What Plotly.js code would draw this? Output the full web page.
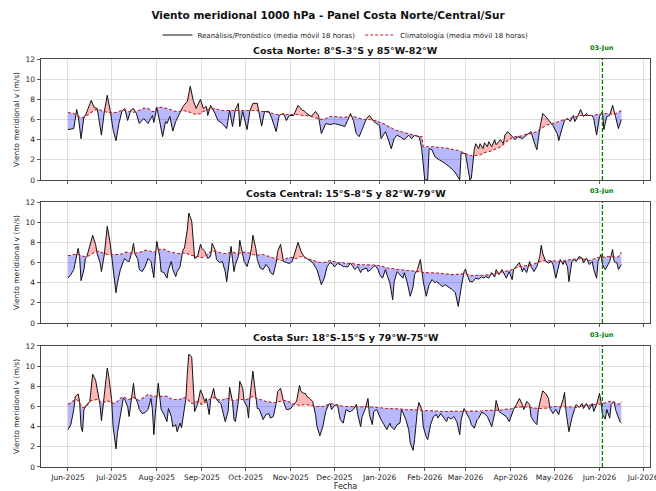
<!DOCTYPE html>
<html>
<head>
<meta charset="utf-8">
<script src="https://cdn.plot.ly/plotly-3.0.1.min.js"></script>
<style>html,body{margin:0;padding:0;background:#fff;}</style>
</head>
<body>
<div id="chart" style="width:656px;height:491px;"></div>
<script>
// ---------------- DATA ----------------
const forecastDate = '2026-06-03';
const forecastLabel = '03-Jun';
const panelTitles = [
  'Costa Norte: 8°S-3°S y 85°W-82°W',
  'Costa Central: 15°S-8°S y 82°W-79°W',
  'Costa Sur: 18°S-15°S y 79°W-75°W'
];

// Costa Norte
const norteDates = ['2025-06-01','2025-06-05','2025-06-07','2025-06-08','2025-06-10','2025-06-12','2025-06-13','2025-06-17','2025-06-19','2025-06-21','2025-06-22','2025-06-24','2025-06-26','2025-06-28','2025-06-30','2025-07-02','2025-07-04','2025-07-06','2025-07-08','2025-07-10','2025-07-12','2025-07-14','2025-07-16','2025-07-18','2025-07-20','2025-07-23','2025-07-26','2025-07-29','2025-07-30','2025-08-01','2025-08-03','2025-08-05','2025-08-07','2025-08-08','2025-08-10','2025-08-12','2025-08-14','2025-08-17','2025-08-19','2025-08-22','2025-08-24','2025-08-26','2025-08-28','2025-08-31','2025-09-02','2025-09-04','2025-09-05','2025-09-07','2025-09-10','2025-09-12','2025-09-15','2025-09-18','2025-09-20','2025-09-22','2025-09-24','2025-09-26','2025-09-27','2025-09-29','2025-10-02','2025-10-04','2025-10-06','2025-10-09','2025-10-10','2025-10-12','2025-10-14','2025-10-17','2025-10-19','2025-10-22','2025-10-24','2025-10-27','2025-10-29','2025-10-31','2025-11-03','2025-11-06','2025-11-09','2025-11-10','2025-11-12','2025-11-15','2025-11-18','2025-11-20','2025-11-22','2025-11-25','2025-11-28','2025-12-01','2025-12-05','2025-12-08','2025-12-10','2025-12-12','2025-12-14','2025-12-16','2025-12-18','2025-12-21','2025-12-23','2025-12-25','2025-12-28','2025-12-30','2026-01-01','2026-01-02','2026-01-05','2026-01-07','2026-01-09','2026-01-11','2026-01-13','2026-01-16','2026-01-18','2026-01-21','2026-01-23','2026-01-25','2026-01-28','2026-01-29','2026-01-30','2026-01-31','2026-02-01','2026-02-03','2026-02-04','2026-02-06','2026-02-08','2026-02-11','2026-02-15','2026-02-18','2026-02-21','2026-02-23','2026-02-25','2026-02-26','2026-03-01','2026-03-04','2026-03-05','2026-03-07','2026-03-08','2026-03-10','2026-03-11','2026-03-13','2026-03-14','2026-03-16','2026-03-17','2026-03-19','2026-03-21','2026-03-22','2026-03-25','2026-03-27','2026-03-28','2026-03-30','2026-04-02','2026-04-04','2026-04-06','2026-04-09','2026-04-11','2026-04-13','2026-04-15','2026-04-17','2026-04-19','2026-04-21','2026-04-23','2026-04-25','2026-04-27','2026-04-28','2026-04-30','2026-05-03','2026-05-04','2026-05-06','2026-05-08','2026-05-10','2026-05-12','2026-05-14','2026-05-15','2026-05-17','2026-05-19','2026-05-21','2026-05-23','2026-05-24','2026-05-27','2026-05-28','2026-05-30','2026-06-01','2026-06-03','2026-06-04','2026-06-06','2026-06-08','2026-06-10','2026-06-12','2026-06-14','2026-06-16'];
const norteV = [5.0,5.1,7.0,6.4,4.1,6.3,6.4,7.9,7.2,7.1,6.3,4.45,6.8,8.4,6.9,5.0,3.9,5.6,6.8,7.1,5.9,6.9,7.1,6.6,5.6,6.1,5.6,6.4,5.7,7.2,5.8,4.3,5.8,5.6,6.3,4.85,5.8,6.8,7.3,7.8,9.3,7.9,7.1,8.0,7.1,7.3,6.4,7.4,6.6,5.9,5.6,5.1,6.9,5.3,7.0,7.6,5.3,6.8,5.0,6.9,7.6,7.6,6.9,5.35,6.8,6.8,6.1,4.8,6.4,6.6,5.9,6.4,6.4,7.4,6.9,6.9,6.6,6.3,6.8,6.4,4.6,5.6,5.5,5.6,5.45,5.3,5.9,6.6,5.9,4.6,4.3,5.45,6.1,6.4,5.8,5.6,5.4,4.1,4.8,4.0,3.1,4.1,4.45,4.2,4.0,4.45,4.1,4.45,4.3,3.8,3.0,1.5,0,0,3.1,3.0,2.3,2.0,1.65,1.3,0.9,0.5,0,2.7,2.6,0,0.2,3.0,3.6,3.1,3.6,3.1,3.7,3.3,3.8,3.3,4.0,3.5,4.0,3.6,4.45,4.8,4.3,4.0,4.3,4.1,4.35,4.6,4.8,3.8,3.0,5.1,6.6,6.3,5.9,5.8,5.4,4.6,3.9,5.0,5.9,6.1,5.8,6.4,5.8,6.3,7.0,6.3,6.6,6.4,6.4,6.1,4.45,6.3,6.8,5.0,6.3,6.4,7.4,6.3,5.1,6.0];
const norteClim = [6.7,6.6,6.4,6.3,6.2,6.2,6.3,6.7,6.9,7.0,7.0,6.9,6.8,6.7,6.7,6.7,6.7,6.8,6.9,6.9,6.8,6.8,6.7,6.8,6.9,7.1,7.1,6.8,6.8,7.2,7.2,7.2,7.1,7.1,7.0,6.9,6.8,6.8,6.9,6.8,6.7,6.6,6.5,6.6,6.8,6.9,7.0,7.0,7.1,7.0,6.9,6.9,6.9,6.9,6.9,6.9,6.9,6.9,6.9,6.9,6.9,6.9,6.8,6.8,6.8,6.7,6.6,6.5,6.5,6.5,6.5,6.5,6.5,6.5,6.4,6.4,6.4,6.3,6.2,6.1,6.0,6.1,6.3,6.3,6.2,6.2,6.3,6.4,6.3,6.2,6.1,6.0,6.0,6.0,5.9,5.9,5.7,5.7,5.5,5.3,5.2,5.0,4.9,4.8,4.7,4.6,4.5,4.4,4.3,4.3,4.3,3.3,3.3,3.3,3.3,3.3,3.3,3.2,3.2,3.1,3.0,3.0,2.9,2.8,2.6,2.4,2.4,2.4,2.4,2.5,2.5,2.6,2.7,2.8,2.8,2.9,3.0,3.1,3.3,3.5,3.7,3.9,4.2,4.3,4.3,4.4,4.5,4.6,4.6,4.7,4.8,5.0,5.2,5.4,5.5,5.5,5.6,5.7,5.8,5.9,6.0,6.0,6.1,6.2,6.3,6.3,6.4,6.4,6.4,6.4,6.4,6.4,6.5,6.5,6.6,6.6,6.6,6.6,6.5,6.6,6.7,6.9];

// Costa Central
const centralDates = ['2025-06-01','2025-06-03','2025-06-05','2025-06-07','2025-06-08','2025-06-09','2025-06-10','2025-06-12','2025-06-13','2025-06-14','2025-06-16','2025-06-18','2025-06-20','2025-06-21','2025-06-23','2025-06-24','2025-06-26','2025-06-27','2025-06-28','2025-06-30','2025-07-01','2025-07-02','2025-07-04','2025-07-05','2025-07-07','2025-07-09','2025-07-10','2025-07-12','2025-07-13','2025-07-15','2025-07-16','2025-07-17','2025-07-19','2025-07-20','2025-07-22','2025-07-24','2025-07-26','2025-07-28','2025-07-30','2025-07-31','2025-08-01','2025-08-03','2025-08-04','2025-08-06','2025-08-08','2025-08-09','2025-08-11','2025-08-12','2025-08-14','2025-08-15','2025-08-17','2025-08-19','2025-08-20','2025-08-22','2025-08-23','2025-08-25','2025-08-26','2025-08-27','2025-08-29','2025-08-31','2025-09-01','2025-09-03','2025-09-05','2025-09-07','2025-09-08','2025-09-10','2025-09-11','2025-09-13','2025-09-15','2025-09-17','2025-09-18','2025-09-20','2025-09-21','2025-09-22','2025-09-23','2025-09-24','2025-09-26','2025-09-27','2025-09-29','2025-09-30','2025-10-02','2025-10-04','2025-10-05','2025-10-06','2025-10-08','2025-10-09','2025-10-11','2025-10-13','2025-10-15','2025-10-17','2025-10-18','2025-10-20','2025-10-22','2025-10-23','2025-10-25','2025-10-27','2025-10-29','2025-10-31','2025-11-02','2025-11-03','2025-11-05','2025-11-06','2025-11-08','2025-11-10','2025-11-12','2025-11-14','2025-11-16','2025-11-19','2025-11-21','2025-11-22','2025-11-24','2025-11-26','2025-11-28','2025-11-30','2025-12-01','2025-12-03','2025-12-05','2025-12-07','2025-12-08','2025-12-10','2025-12-12','2025-12-14','2025-12-15','2025-12-17','2025-12-19','2025-12-20','2025-12-23','2025-12-24','2025-12-26','2025-12-28','2025-12-29','2025-12-31','2026-01-01','2026-01-03','2026-01-05','2026-01-06','2026-01-08','2026-01-10','2026-01-11','2026-01-13','2026-01-15','2026-01-17','2026-01-18','2026-01-20','2026-01-22','2026-01-24','2026-01-25','2026-01-27','2026-01-29','2026-01-30','2026-01-31','2026-02-02','2026-02-04','2026-02-06','2026-02-08','2026-02-09','2026-02-11','2026-02-13','2026-02-15','2026-02-17','2026-02-20','2026-02-22','2026-02-24','2026-02-26','2026-02-28','2026-03-01','2026-03-02','2026-03-04','2026-03-06','2026-03-08','2026-03-10','2026-03-12','2026-03-13','2026-03-15','2026-03-17','2026-03-19','2026-03-21','2026-03-22','2026-03-24','2026-03-26','2026-03-27','2026-03-29','2026-03-31','2026-04-02','2026-04-03','2026-04-05','2026-04-07','2026-04-09','2026-04-10','2026-04-12','2026-04-14','2026-04-15','2026-04-17','2026-04-19','2026-04-21','2026-04-22','2026-04-23','2026-04-25','2026-04-27','2026-04-29','2026-04-30','2026-05-02','2026-05-04','2026-05-05','2026-05-07','2026-05-08','2026-05-10','2026-05-11','2026-05-13','2026-05-15','2026-05-16','2026-05-18','2026-05-20','2026-05-21','2026-05-23','2026-05-25','2026-05-27','2026-05-28','2026-05-30','2026-05-31','2026-06-02','2026-06-03','2026-06-05','2026-06-06','2026-06-08','2026-06-10','2026-06-11','2026-06-13','2026-06-14','2026-06-16'];
const centralV = [4.45,4.8,5.3,6.9,7.4,6.6,4.2,5.3,6.4,6.6,7.6,8.7,7.8,6.9,6.0,5.1,6.8,8.6,9.6,7.9,6.6,5.0,3.0,4.0,5.3,6.1,6.4,6.1,6.1,7.1,7.9,6.9,6.3,5.3,5.1,5.6,6.4,6.1,4.5,6.6,8.1,6.6,5.1,5.0,4.45,5.3,6.1,5.3,4.6,5.1,5.6,7.3,7.4,9.3,10.9,10.1,7.8,6.4,6.6,7.8,7.4,7.1,6.4,6.6,7.9,7.3,6.3,6.0,6.1,5.1,4.1,6.1,7.6,6.3,5.1,5.8,6.6,8.2,6.6,6.1,5.6,6.6,7.4,8.7,7.4,6.3,5.45,5.3,5.8,5.45,5.0,4.8,6.0,7.1,7.8,6.1,6.0,5.9,6.1,6.6,7.4,8.0,7.1,6.6,6.4,6.2,6.0,5.3,4.3,3.8,4.45,5.6,6.0,5.8,5.55,5.9,5.8,5.6,5.6,5.55,5.95,5.55,5.3,5.6,5.0,5.3,5.45,5.1,5.3,5.6,5.7,5.3,4.8,4.45,5.3,4.8,4.0,2.3,4.1,5.1,4.8,4.45,5.0,4.0,2.65,3.6,4.8,5.3,6.3,5.3,4.1,2.65,3.8,4.3,4.0,4.1,3.9,3.6,3.8,3.6,3.3,3.0,1.65,3.5,5.1,5.35,4.8,4.1,4.1,4.45,4.35,4.6,4.45,4.6,4.45,5.0,4.55,5.3,4.8,5.3,5.0,4.45,5.1,4.3,5.3,5.6,6.0,5.1,5.45,5.0,6.1,5.6,5.1,5.6,6.6,7.7,6.9,6.1,5.95,6.1,5.8,4.45,5.6,6.3,5.8,6.2,5.6,4.1,6.1,6.3,6.1,6.6,6.45,5.95,6.45,5.8,6.1,5.3,4.45,6.1,6.8,5.8,5.3,5.6,6.1,7.3,6.1,5.95,5.3,5.8];
const centralClim = [6.7,6.7,6.8,6.8,6.8,6.7,6.7,6.6,6.6,6.6,6.7,6.9,7.1,7.1,7.1,7.0,6.9,6.9,6.8,6.8,6.8,6.8,6.8,6.8,6.8,6.9,7.0,7.0,7.0,6.9,6.9,6.9,7.0,7.0,7.1,7.2,7.2,7.1,7.0,7.1,7.2,7.3,7.3,7.3,7.2,7.1,7.0,7.0,6.9,6.9,6.9,7.0,6.9,6.9,6.8,6.7,6.7,6.6,6.6,6.5,6.5,6.6,6.8,7.1,7.1,7.1,7.1,7.0,6.9,6.9,6.9,7.0,7.0,7.0,7.0,6.9,6.9,6.9,7.0,7.0,7.0,6.9,6.9,6.8,6.7,6.7,6.8,6.8,6.7,6.6,6.6,6.5,6.4,6.3,6.2,6.2,6.4,6.5,6.5,6.4,6.4,6.5,6.6,6.5,6.4,6.3,6.2,6.1,6.0,6.0,6.0,6.1,6.2,6.1,6.1,6.0,6.0,6.0,5.9,5.9,5.9,5.9,5.8,5.8,5.8,5.8,5.8,5.8,5.8,5.8,5.75,5.7,5.7,5.6,5.5,5.5,5.4,5.4,5.35,5.3,5.3,5.25,5.2,5.2,5.2,5.15,5.1,5.1,5.1,5.05,5.0,5.0,5.0,5.0,5.0,5.0,4.95,4.9,4.9,4.85,4.8,4.8,4.8,4.85,4.9,4.9,4.85,4.7,4.7,4.7,4.7,4.7,4.7,4.75,4.8,4.85,4.9,4.95,5.0,5.1,5.1,5.15,5.2,5.3,5.4,5.5,5.6,5.6,5.65,5.7,5.7,5.75,5.8,5.95,6.1,6.1,6.15,6.2,6.2,6.2,6.2,6.15,6.1,6.1,6.15,6.2,6.25,6.3,6.3,6.35,6.35,6.4,6.35,6.3,6.25,6.2,6.3,6.35,6.45,6.5,6.5,6.5,6.55,6.6,6.6,6.6,6.55,6.5,6.6,7.0];

// Costa Sur
const surDates = ['2025-06-01','2025-06-03','2025-06-05','2025-06-06','2025-06-08','2025-06-09','2025-06-10','2025-06-11','2025-06-12','2025-06-14','2025-06-16','2025-06-17','2025-06-18','2025-06-20','2025-06-21','2025-06-23','2025-06-24','2025-06-26','2025-06-27','2025-06-28','2025-06-29','2025-07-01','2025-07-02','2025-07-04','2025-07-05','2025-07-07','2025-07-09','2025-07-10','2025-07-12','2025-07-13','2025-07-15','2025-07-16','2025-07-17','2025-07-19','2025-07-20','2025-07-22','2025-07-24','2025-07-26','2025-07-28','2025-07-29','2025-07-30','2025-07-31','2025-08-02','2025-08-03','2025-08-04','2025-08-06','2025-08-08','2025-08-09','2025-08-11','2025-08-12','2025-08-14','2025-08-15','2025-08-17','2025-08-18','2025-08-20','2025-08-21','2025-08-22','2025-08-23','2025-08-25','2025-08-26','2025-08-27','2025-08-29','2025-08-31','2025-09-01','2025-09-03','2025-09-04','2025-09-06','2025-09-07','2025-09-09','2025-09-10','2025-09-12','2025-09-14','2025-09-16','2025-09-17','2025-09-19','2025-09-20','2025-09-22','2025-09-23','2025-09-24','2025-09-26','2025-09-27','2025-09-29','2025-09-30','2025-10-02','2025-10-03','2025-10-04','2025-10-06','2025-10-07','2025-10-09','2025-10-10','2025-10-11','2025-10-13','2025-10-15','2025-10-17','2025-10-18','2025-10-20','2025-10-22','2025-10-23','2025-10-25','2025-10-27','2025-10-29','2025-10-30','2025-11-01','2025-11-03','2025-11-05','2025-11-07','2025-11-08','2025-11-10','2025-11-11','2025-11-12','2025-11-14','2025-11-16','2025-11-18','2025-11-19','2025-11-21','2025-11-23','2025-11-25','2025-11-27','2025-11-28','2025-11-29','2025-12-01','2025-12-03','2025-12-05','2025-12-07','2025-12-09','2025-12-11','2025-12-12','2025-12-14','2025-12-16','2025-12-17','2025-12-19','2025-12-20','2025-12-22','2025-12-24','2025-12-25','2025-12-27','2025-12-28','2025-12-30','2026-01-01','2026-01-02','2026-01-04','2026-01-06','2026-01-08','2026-01-09','2026-01-11','2026-01-13','2026-01-15','2026-01-16','2026-01-17','2026-01-19','2026-01-21','2026-01-22','2026-01-24','2026-01-25','2026-01-27','2026-01-28','2026-01-30','2026-01-31','2026-02-02','2026-02-03','2026-02-05','2026-02-07','2026-02-09','2026-02-10','2026-02-12','2026-02-14','2026-02-16','2026-02-17','2026-02-19','2026-02-21','2026-02-23','2026-02-25','2026-02-26','2026-02-28','2026-03-02','2026-03-04','2026-03-05','2026-03-07','2026-03-09','2026-03-10','2026-03-12','2026-03-14','2026-03-16','2026-03-17','2026-03-19','2026-03-21','2026-03-22','2026-03-24','2026-03-26','2026-03-27','2026-03-29','2026-03-31','2026-04-02','2026-04-03','2026-04-05','2026-04-07','2026-04-09','2026-04-10','2026-04-12','2026-04-14','2026-04-15','2026-04-17','2026-04-19','2026-04-20','2026-04-22','2026-04-23','2026-04-25','2026-04-27','2026-04-28','2026-04-30','2026-05-02','2026-05-04','2026-05-05','2026-05-07','2026-05-08','2026-05-09','2026-05-11','2026-05-13','2026-05-15','2026-05-16','2026-05-18','2026-05-20','2026-05-21','2026-05-23','2026-05-25','2026-05-27','2026-05-28','2026-05-30','2026-06-01','2026-06-02','2026-06-03','2026-06-05','2026-06-06','2026-06-08','2026-06-09','2026-06-11','2026-06-12','2026-06-14','2026-06-15','2026-06-16'];
const surV = [3.7,4.2,5.7,7.0,7.25,6.5,4.0,3.5,5.7,6.2,6.5,8.3,9.2,8.6,7.8,6.2,4.6,7.0,8.6,9.8,9.0,6.7,4.0,1.8,3.4,5.3,6.8,6.7,6.0,5.0,7.2,8.3,7.0,6.3,5.7,5.3,5.4,5.7,6.8,5.7,3.2,5.3,8.3,7.0,5.7,5.2,4.5,5.8,5.0,4.0,4.2,3.5,4.35,3.9,5.7,6.8,9.3,11.2,10.9,7.8,5.5,6.2,7.65,7.3,6.5,6.8,5.2,6.7,7.8,7.0,6.5,6.3,5.2,4.5,5.5,7.9,6.5,4.7,4.5,6.5,8.5,7.8,6.5,6.0,4.85,7.0,9.5,8.3,5.8,5.8,5.5,4.7,5.2,5.3,4.85,5.0,6.3,7.5,7.8,6.5,5.7,5.7,5.8,6.2,6.5,8.1,7.5,7.3,7.3,7.0,6.8,6.5,5.2,4.0,3.1,4.0,5.5,6.2,6.3,5.7,6.1,6.2,4.7,4.35,5.7,5.5,5.5,5.7,6.2,5.2,4.0,5.0,5.7,6.8,5.2,4.2,5.5,5.7,5.0,4.7,4.2,3.7,4.35,4.0,3.7,4.2,4.35,5.7,5.4,4.7,3.7,2.4,1.65,2.7,5.7,6.4,5.7,4.0,3.0,2.7,4.2,5.0,5.2,4.85,5.3,4.85,4.5,4.95,4.75,5.0,4.5,3.2,4.7,5.8,5.2,4.7,4.2,3.85,4.7,4.85,5.4,5.3,5.0,4.7,4.0,5.3,6.6,5.5,5.3,5.2,5.0,4.5,5.3,5.7,6.2,6.8,6.2,5.7,6.5,6.2,5.0,4.5,4.2,5.7,7.0,7.55,7.3,6.8,5.8,5.3,5.7,5.2,5.8,6.7,7.4,5.5,3.5,4.85,5.8,6.2,5.9,6.3,5.8,6.3,5.7,6.3,5.5,6.2,7.3,6.5,5.2,4.75,5.7,4.85,6.2,6.5,5.7,4.85,4.5,4.4];
const surClim = [6.2,6.4,6.6,6.7,6.6,6.3,6.1,5.9,5.9,6.1,6.4,6.6,6.6,6.7,6.7,6.5,6.4,6.4,6.6,6.6,6.5,6.4,6.3,6.4,6.5,6.8,7.0,6.9,6.7,6.7,6.8,6.9,6.8,6.7,6.6,6.8,7.0,7.2,7.1,7.0,7.0,7.0,7.0,7.0,7.0,7.0,7.0,6.9,6.8,6.7,6.7,6.7,6.7,6.8,6.9,6.8,6.7,6.6,6.3,6.3,6.4,6.5,6.3,6.2,6.4,6.5,6.7,6.8,6.9,6.8,6.7,6.6,6.7,6.8,6.8,6.7,6.6,6.6,6.6,6.7,6.7,6.7,6.7,6.7,6.8,6.9,7.0,6.9,6.8,6.7,6.7,6.6,6.5,6.5,6.4,6.4,6.4,6.5,6.5,6.6,6.6,6.5,6.4,6.2,6.2,6.1,6.1,6.2,6.2,6.2,6.1,6.1,6.0,6.0,6.0,6.0,6.1,6.2,6.3,6.3,6.2,6.1,6.1,6.0,6.0,6.0,6.0,6.0,6.0,6.0,6.0,6.0,6.0,6.0,6.0,5.95,5.95,5.9,5.9,5.85,5.85,5.8,5.8,5.8,5.8,5.8,5.75,5.75,5.7,5.7,5.7,5.7,5.7,5.7,5.7,5.65,5.6,5.6,5.6,5.6,5.6,5.6,5.55,5.55,5.5,5.5,5.5,5.5,5.5,5.5,5.5,5.5,5.5,5.5,5.5,5.5,5.5,5.5,5.5,5.55,5.55,5.6,5.6,5.6,5.6,5.6,5.6,5.65,5.65,5.7,5.7,5.75,5.8,5.9,5.9,5.95,6.0,6.0,5.95,5.9,5.85,5.8,5.8,5.8,5.8,5.8,5.8,5.85,5.9,6.0,6.0,6.0,6.0,6.0,6.0,6.0,6.0,5.95,5.9,5.9,6.0,6.0,6.1,6.1,6.1,6.15,6.2,6.2,6.2,6.25,6.3,6.35,6.4,6.5,6.5,6.4,6.3,6.2,6.3,6.5,6.6,6.7];

// ---------------- STYLE ----------------
const FONT = 'DejaVu Sans, sans-serif';
const RED_FILL = 'rgba(255,0,0,0.28)';
const BLUE_FILL = 'rgba(0,0,255,0.28)';
const CLIM_COLOR = '#b8262b';
const LINE_COLOR = '#111111';

function toStr(ms){ return new Date(ms).toISOString().slice(0,19).replace('T',' '); }

// insert crossing points so fills switch cleanly between red/blue
function splitFill(dates, v, c){
  const t = dates.map(d => Date.parse(d + 'T00:00:00Z'));
  const xs = [], up = [], lo = [], cc = [];
  for (let i = 0; i < t.length; i++){
    xs.push(toStr(t[i])); cc.push(c[i]);
    up.push(Math.max(v[i], c[i])); lo.push(Math.min(v[i], c[i]));
    if (i < t.length - 1){
      const d0 = v[i] - c[i], d1 = v[i+1] - c[i+1];
      if (d0 * d1 < 0){
        const f = d0 / (d0 - d1);
        const tm = t[i] + f * (t[i+1] - t[i]);
        const ym = c[i] + f * (c[i+1] - c[i]);
        xs.push(toStr(tm)); cc.push(ym); up.push(ym); lo.push(ym);
      }
    }
  }
  return {xs, up, lo, cc};
}

const panels = [
  {dates: norteDates, v: norteV, c: norteClim},
  {dates: centralDates, v: centralV, c: centralClim},
  {dates: surDates, v: surV, c: surClim}
];

const traces = [];
panels.forEach((p, k) => {
  const xa = k === 0 ? 'x' : 'x' + (k + 1);
  const ya = k === 0 ? 'y' : 'y' + (k + 1);
  const f = splitFill(p.dates, p.v, p.c);
  const base = {type: 'scatter', mode: 'lines', xaxis: xa, yaxis: ya, hoverinfo: 'skip', showlegend: false, line: {width: 0}};
  traces.push(Object.assign({}, base, {x: f.xs, y: f.cc}));
  traces.push(Object.assign({}, base, {x: f.xs, y: f.up, fill: 'tonexty', fillcolor: RED_FILL}));
  traces.push(Object.assign({}, base, {x: f.xs, y: f.cc}));
  traces.push(Object.assign({}, base, {x: f.xs, y: f.lo, fill: 'tonexty', fillcolor: BLUE_FILL}));
  traces.push({type: 'scatter', mode: 'lines', xaxis: xa, yaxis: ya, x: p.dates, y: p.v,
    name: 'Reanálisis/Pronóstico (media móvil 18 horas)', showlegend: k === 0,
    line: {color: LINE_COLOR, width: 1}});
  traces.push({type: 'scatter', mode: 'lines', xaxis: xa, yaxis: ya, x: p.dates, y: p.c,
    name: 'Climatología (media móvil 18 horas)', showlegend: k === 0,
    line: {color: CLIM_COLOR, width: 1.1, dash: '3px,2px'}});
});

const xRange = ['2025-05-13 12:00', '2026-07-05 16:00'];
function xAxis(anchor, showLabels){
  const a = {anchor: anchor, type: 'date', range: xRange, dtick: 'M1', tick0: '2025-06-01',
    tickformat: '%b-%Y', showticklabels: showLabels, ticklabeloverflow: 'allow',
    ticks: 'outside', ticklen: 3.5, tickwidth: 0.8,
    tickcolor: '#333', showgrid: true, gridcolor: '#d6d6d6', gridwidth: 0.8, showline: true,
    linecolor: '#333', linewidth: 0.9, mirror: true, zeroline: false,
    tickfont: {family: FONT, size: 7.5, color: '#222'}};
  if (showLabels) a.title = {text: 'Fecha', font: {family: FONT, size: 8, color: '#222'}, standoff: 2};
  return a;
}
function yAxis(anchor, domain){
  return {anchor: anchor, domain: domain, range: [0, 12], dtick: 2, ticks: 'outside', ticklen: 3.5,
    tickwidth: 0.8, tickcolor: '#333', showgrid: true, gridcolor: '#d6d6d6', gridwidth: 0.8,
    showline: true, linecolor: '#333', linewidth: 0.9, mirror: true, zeroline: false,
    tickfont: {family: FONT, size: 7.5, color: '#222'},
    title: {text: 'Viento meridional v (m/s)', font: {family: FONT, size: 7.5, color: '#222'}, standoff: 4}};
}

const domains = [[0.7034, 1], [0.3529, 0.6495], [0, 0.2966]];
const annotations = [];
const shapes = [];
panelTitles.forEach((t, k) => {
  const xa = k === 0 ? 'x' : 'x' + (k + 1);
  const ya = k === 0 ? 'y' : 'y' + (k + 1);
  annotations.push({xref: 'paper', yref: 'paper', x: 0.5, y: domains[k][1], yanchor: 'bottom',
    xanchor: 'center', yshift: 1, showarrow: false, text: '<b>' + t + '</b>',
    font: {family: FONT, size: 9.5, color: '#111'}});
  annotations.push({xref: xa, yref: ya + ' domain', x: forecastDate, y: 1, yanchor: 'bottom',
    xanchor: 'center', yshift: 5, showarrow: false, text: '<b>' + forecastLabel + '</b>',
    font: {family: FONT, size: 6.5, color: 'green'}});
  shapes.push({type: 'line', xref: xa, yref: ya + ' domain', x0: forecastDate, x1: forecastDate,
    y0: 0, y1: 1, line: {color: 'green', width: 1.3, dash: '4px,2px'}});
});

const layout = {
  width: 656, height: 491,
  margin: {l: 41, r: 6, t: 59, b: 24},
  paper_bgcolor: '#fff', plot_bgcolor: '#fff',
  font: {family: FONT, size: 7.5, color: '#222'},
  title: {text: '<b>Viento meridional 1000 hPa - Panel Costa Norte/Central/Sur</b>',
    x: 0.5, xanchor: 'center', y: 1 - 15 / 491, yanchor: 'middle',
    font: {family: FONT, size: 10.5, color: '#111'}},
  showlegend: true,
  legend: {orientation: 'h', traceorder: 'normal', x: 0.5, xanchor: 'center', yref: 'container', y: 1 - 35 / 491,
    yanchor: 'middle', font: {family: FONT, size: 7, color: '#222'}, bgcolor: 'rgba(0,0,0,0)',
    itemwidth: 30, tracegroupgap: 0},
  xaxis: xAxis('y', false),
  xaxis2: xAxis('y2', false),
  xaxis3: xAxis('y3', true),
  yaxis: yAxis('x', domains[0]),
  yaxis2: yAxis('x2', domains[1]),
  yaxis3: yAxis('x3', domains[2]),
  annotations: annotations,
  shapes: shapes
};

Plotly.newPlot('chart', traces, layout, {staticPlot: true, displayModeBar: false});
</script>
</body>
</html>
